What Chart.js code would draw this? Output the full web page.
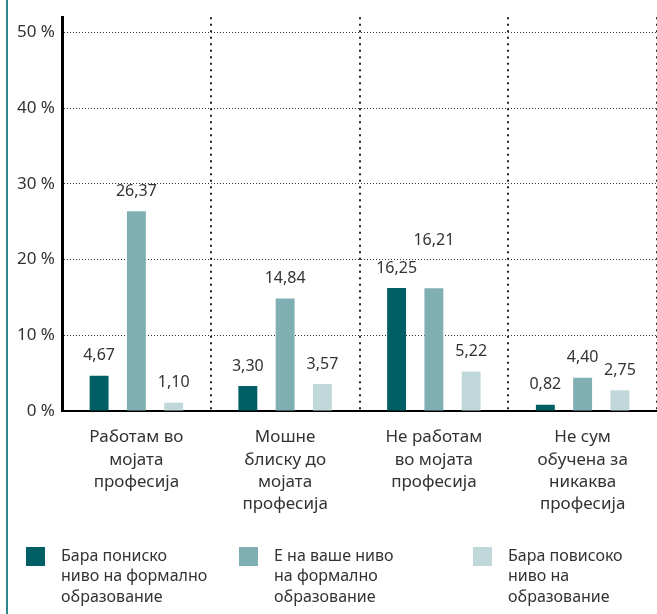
<!DOCTYPE html>
<html lang="mk">
<head>
<meta charset="utf-8">
<script src="https://cdn.jsdelivr.net/npm/chart.js@4/dist/chart.umd.min.js"></script>
<style>
  html, body { margin: 0; padding: 0; background: #fff; }
  canvas { display: block; }
</style>
</head>
<body>
<canvas id="canvas" width="657" height="614"></canvas>
<script>
// categories, one array of lines per label
const categories = [
  ["Работам во", "мојата", "професија"],
  ["Мошне", "блиску до", "мојата", "професија"],
  ["Не работам", "во мојата", "професија"],
  ["Не сум", "обучена за", "никаква", "професија"],
];

const seriesNames = [
  ["Бара пониско", "ниво на формално", "образование"],
  ["Е на ваше ниво", "на формално", "образование"],
  ["Бара повисоко", "ниво на", "образование"],
];

const lowerLevel = [4.67, 3.30, 16.25, 0.82];
const sameLevel = [26.37, 14.84, 16.21, 4.40];
const higherLevel = [1.10, 3.57, 5.22, 2.75];

const yTicks = [0, 10, 20, 30, 40, 50];

const colors = ["#005f64", "#80afb3", "#c0d8da"];
const textColor = "#333333";

Chart.defaults.font.family = "'Noto Sans', 'Open Sans', sans-serif";
Chart.defaults.color = textColor;

const fmt = (v) => v.toFixed(2).replace(".", ",");

// value labels above the bars, lifted when two of them collide
const valueLabels = {
  id: "valueLabels",
  afterDatasetsDraw(chart) {
    const ctx = chart.ctx;
    const placed = [];
    ctx.save();
    ctx.font = "16px 'Noto Sans'";
    ctx.fillStyle = textColor;
    ctx.textAlign = "center";
    ctx.textBaseline = "middle";
    chart.data.datasets.forEach((ds, di) => {
      chart.getDatasetMeta(di).data.forEach((bar, i) => {
        const text = fmt(ds.data[i]);
        const w = ctx.measureText(text).width;
        let y = bar.y - 20;
        const hits = () => placed.some(b =>
          Math.abs(b.x - bar.x) < (b.w + w) / 2 && Math.abs(b.y - y) < 14);
        while (hits()) y -= 28;
        placed.push({ x: bar.x, y: y, w: w });
        ctx.fillText(text, bar.x, y);
      });
    });
    ctx.restore();
  },
};

// left rule and the legend under the axis labels
const frame = {
  id: "frame",
  afterDraw(chart) {
    const ctx = chart.ctx;
    ctx.save();
    ctx.fillStyle = "#2b878c";
    ctx.fillRect(6, 0, 2, chart.height);

    const itemX = [26, 239, 473];
    const top = 547;
    ctx.font = "16px 'Noto Sans'";
    ctx.textBaseline = "middle";
    ctx.textAlign = "left";
    chart.data.datasets.forEach((ds, i) => {
      ctx.fillStyle = ds.backgroundColor;
      ctx.fillRect(itemX[i], top, 19, 19);
      ctx.fillStyle = textColor;
      seriesNames[i].forEach((line, li) => {
        ctx.fillText(line, itemX[i] + 35, top + 9 + li * 20.5);
      });
    });
    ctx.restore();
  },
};

const config = {
  type: "bar",
  data: {
    labels: categories,
    datasets: [
      { label: seriesNames[0].join(" "), data: lowerLevel, backgroundColor: colors[0] },
      { label: seriesNames[1].join(" "), data: sameLevel, backgroundColor: colors[1] },
      { label: seriesNames[2].join(" "), data: higherLevel, backgroundColor: colors[2] },
    ],
  },
  options: {
    responsive: false,
    animation: false,
    events: [],
    categoryPercentage: 0.752,
    barPercentage: 0.507,
    layout: { padding: { top: 17, right: 0, bottom: 98, left: 0 } },
    plugins: {
      legend: { display: false },
      tooltip: { enabled: false },
    },
    scales: {
      x: {
        grid: {
          offset: true,
          drawTicks: false,
          color: "#222",
          lineWidth: 2,
        },
        border: { display: true, color: "#000", width: 2, dash: [2, 4.5] },
        ticks: {
          color: textColor,
          padding: 15,
          font: { size: 17, lineHeight: 1.32 },
          maxRotation: 0,
          autoSkip: false,
        },
        afterFit(axis) { axis.height = 105; },
      },
      y: {
        min: 0,
        max: 52,
        afterBuildTicks(axis) { axis.ticks = yTicks.map(v => ({ value: v })); },
        afterFit(axis) { axis.width = 62; },
        grid: { drawTicks: false, color: "#333", lineWidth: 1 },
        border: { display: true, color: "#000", width: 3, dash: [1, 2] },
        ticks: {
          color: textColor,
          padding: 7,
          font: { size: 17 },
          callback: (v) => v + " %",
        },
      },
    },
  },
  plugins: [valueLabels, frame],
};

const myChart = new Chart(document.getElementById("canvas"), config);
</script>
</body>
</html>
